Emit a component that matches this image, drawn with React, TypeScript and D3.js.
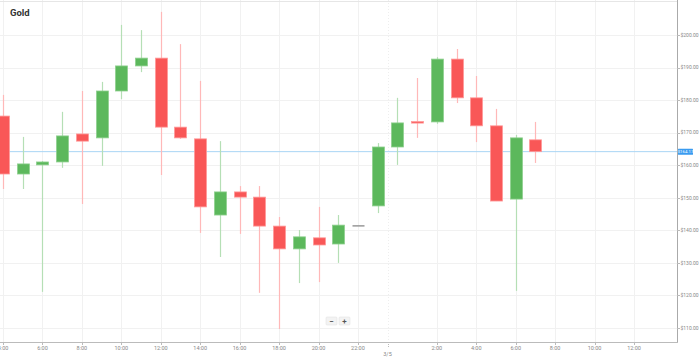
import React, { useEffect, useRef } from "react";
import * as d3 from "d3";

// hours counted from 3/4 00:00
const hours = [4, 5, 6, 7, 8, 9, 10, 11, 12, 13, 14, 15, 16, 17, 18, 19, 20, 21, 22, 23, 24, 25, 26, 27, 28, 29, 30, 31];
const opens = [175.1, 157.3, 160.1, 161.0, 169.6, 168.4, 182.8, 190.5, 192.9, 171.7, 168.1, 144.7, 151.8, 150.2, 141.3, 134.3, 137.7, 135.8, 141.6, 147.5, 165.6, 173.4, 173.3, 192.6, 180.7, 172.1, 149.6, 167.8];
const highs = [181.6, 168.7, 161.3, 176.4, 182.8, 185.6, 203.1, 201.5, 207.1, 197.2, 185.9, 167.4, 153.6, 153.6, 144.1, 140.1, 147.2, 144.7, 141.6, 166.8, 180.7, 186.8, 193.2, 195.7, 187.4, 177.3, 169.3, 173.3];
const lows = [152.7, 152.7, 121.1, 159.2, 148.1, 159.8, 180.3, 188.6, 157.0, 168.1, 139.2, 131.8, 138.9, 120.8, 109.7, 123.8, 124.1, 130.0, 141.6, 145.3, 160.1, 168.4, 172.7, 179.1, 167.1, 149.0, 121.4, 160.7];
const closes = [157.3, 160.4, 161.0, 169.0, 167.4, 182.8, 190.5, 192.9, 171.7, 168.4, 147.2, 151.8, 150.2, 141.3, 134.3, 138.0, 135.5, 141.6, 141.6, 165.6, 173.0, 173.1, 192.6, 180.7, 172.1, 149.0, 168.4, 164.17];

const priceTicks = [110, 120, 130, 140, 150, 160, 170, 180, 190, 200];
const timeTicks = [4, 6, 8, 10, 12, 14, 16, 18, 20, 22, 26, 28, 30, 32, 34, 36];
const timeLabels = ["4:00", "6:00", "8:00", "10:00", "12:00", "14:00", "16:00", "18:00", "20:00", "22:00", "2:00", "4:00", "6:00", "8:00", "10:00", "12:00"];
const dateTick = 23.5;
const dateLabel = "3/5";
const lastPrice = 164.17;

const W = 699;
const H = 359;

const App: React.FC = () => {
  const svgRef = useRef<SVGSVGElement | null>(null);

  useEffect(() => {
    if (!svgRef.current) return;
    const svg = d3.select(svgRef.current);
    svg.selectAll("*").remove();

    const plotRight = 677;
    const plotBottom = 342;

    const x = d3.scaleLinear().domain([4, 36]).range([3, 634]);
    const y = d3.scaleLinear().domain([110, 200]).range([328, 35]);

    svg.append("defs")
      .append("clipPath")
      .attr("id", "plot")
      .append("rect")
      .attr("x", 0)
      .attr("y", 0)
      .attr("width", plotRight)
      .attr("height", plotBottom);

    // grid
    const grid = svg.append("g");
    grid.selectAll("line.h")
      .data(priceTicks)
      .join("line")
      .attr("x1", 0)
      .attr("x2", plotRight)
      .attr("y1", (d) => Math.round(y(d)) + 0.5)
      .attr("y2", (d) => Math.round(y(d)) + 0.5)
      .attr("stroke", "#f1f1f1");
    grid.selectAll("line.v")
      .data(timeTicks)
      .join("line")
      .attr("x1", (d) => Math.round(x(d)) + 0.5)
      .attr("x2", (d) => Math.round(x(d)) + 0.5)
      .attr("y1", 0)
      .attr("y2", plotBottom)
      .attr("stroke", "#f1f1f1");
    grid.append("line")
      .attr("x1", Math.round(x(dateTick)) + 0.5)
      .attr("x2", Math.round(x(dateTick)) + 0.5)
      .attr("y1", 0)
      .attr("y2", plotBottom)
      .attr("stroke", "#eeeeee")
      .attr("stroke-dasharray", "1,2");
    grid.append("line")
      .attr("x1", 0)
      .attr("x2", plotRight)
      .attr("y1", 1.5)
      .attr("y2", 1.5)
      .attr("stroke", "#e6e6e6");

    // current price line
    svg.append("line")
      .attr("x1", 0)
      .attr("x2", plotRight)
      .attr("y1", y(lastPrice))
      .attr("y2", y(lastPrice))
      .attr("stroke", "#a9d5f5")
      .attr("stroke-width", 1);

    // candles
    const data = hours.map((h, i) => ({ h, o: opens[i], hi: highs[i], lo: lows[i], c: closes[i] }));
    const color = (d: { o: number; c: number }) =>
      d.c > d.o ? "#5cb85c" : d.c < d.o ? "#f95757" : "#999999";
    const wickColor = (d: { o: number; c: number }) =>
      d.c > d.o ? "#b5dfb5" : d.c < d.o ? "#ffb8b8" : "#999999";
    const bw = 12;

    const candles = svg.append("g").attr("clip-path", "url(#plot)");
    candles.selectAll("line.wick")
      .data(data)
      .join("line")
      .attr("x1", (d) => Math.round(x(d.h)) + 0.5)
      .attr("x2", (d) => Math.round(x(d.h)) + 0.5)
      .attr("y1", (d) => y(d.hi))
      .attr("y2", (d) => y(d.lo))
      .attr("stroke", wickColor)
      .attr("stroke-width", 1.2);
    candles.selectAll("rect.body")
      .data(data)
      .join("rect")
      .attr("x", (d) => Math.round(x(d.h)) + 0.5 - bw / 2)
      .attr("width", bw)
      .attr("y", (d) => y(Math.max(d.o, d.c)))
      .attr("height", (d) => Math.max(1.5, Math.abs(y(d.o) - y(d.c))))
      .attr("fill", color)
      .attr("stroke", (d) => (d.c === d.o ? "none" : d.c > d.o ? "#8fd08f" : "#ff9a9a"))
      .attr("stroke-width", 0.8);

    // axes lines
    svg.append("line")
      .attr("x1", plotRight + 0.5)
      .attr("x2", plotRight + 0.5)
      .attr("y1", 0)
      .attr("y2", plotBottom)
      .attr("stroke", "#aaaaaa");
    svg.append("line")
      .attr("x1", 0)
      .attr("x2", plotRight + 1)
      .attr("y1", plotBottom + 0.5)
      .attr("y2", plotBottom + 0.5)
      .attr("stroke", "#bbbbbb");

    const font = "Roboto, 'Open Sans', sans-serif";

    // y axis ticks + labels
    const yAxis = svg.append("g");
    yAxis.selectAll("line")
      .data(priceTicks)
      .join("line")
      .attr("x1", plotRight)
      .attr("x2", plotRight + 3)
      .attr("y1", (d) => Math.round(y(d)) + 0.5)
      .attr("y2", (d) => Math.round(y(d)) + 0.5)
      .attr("stroke", "#bbbbbb");
    yAxis.selectAll("text")
      .data(priceTicks)
      .join("text")
      .attr("x", plotRight + 3.5)
      .attr("y", (d) => y(d))
      .attr("dy", "0.35em")
      .attr("font-family", font)
      .attr("font-size", 5)
      .attr("fill", "#888888")
      .text((d) => `$${d3.format(".2f")(d)}`);

    // price label
    svg.append("rect")
      .attr("x", plotRight + 1)
      .attr("y", y(lastPrice) - 3)
      .attr("width", 15)
      .attr("height", 6)
      .attr("rx", 0.5)
      .attr("fill", "#3a9bf0");
    svg.append("text")
      .attr("x", plotRight + 8.5)
      .attr("y", y(lastPrice))
      .attr("dy", "0.35em")
      .attr("text-anchor", "middle")
      .attr("font-family", font)
      .attr("font-size", 4.3)
      .attr("fill", "#ffffff")
      .text(`$${d3.format(".2f")(lastPrice)}`);

    // x axis ticks + labels
    const xAxis = svg.append("g");
    xAxis.selectAll("line")
      .data(timeTicks)
      .join("line")
      .attr("x1", (d) => Math.round(x(d)) + 0.5)
      .attr("x2", (d) => Math.round(x(d)) + 0.5)
      .attr("y1", plotBottom)
      .attr("y2", plotBottom + 3)
      .attr("stroke", "#bbbbbb");
    xAxis.selectAll("text")
      .data(timeTicks)
      .join("text")
      .attr("x", (d) => x(d))
      .attr("y", 348)
      .attr("dy", "0.35em")
      .attr("text-anchor", "middle")
      .attr("font-family", font)
      .attr("font-size", 5.5)
      .attr("fill", "#888888")
      .text((_, i) => timeLabels[i]);
    xAxis.append("line")
      .attr("x1", Math.round(x(dateTick)) + 0.5)
      .attr("x2", Math.round(x(dateTick)) + 0.5)
      .attr("y1", plotBottom)
      .attr("y2", plotBottom + 6)
      .attr("stroke", "#bbbbbb")
      .attr("stroke-dasharray", "1,1");
    xAxis.append("text")
      .attr("x", x(dateTick))
      .attr("y", 354)
      .attr("dy", "0.35em")
      .attr("text-anchor", "middle")
      .attr("font-family", font)
      .attr("font-size", 5.5)
      .attr("fill", "#888888")
      .text(dateLabel);

    // title
    svg.append("text")
      .attr("x", 10)
      .attr("y", 15.5)
      .attr("font-family", font)
      .attr("font-weight", "bold")
      .attr("font-size", 9.5)
      .attr("fill", "#333333")
      .text("Gold");

    // zoom buttons
    const btns = svg.append("g");
    [["−", 326], ["+", 339]].forEach(([label, bx]) => {
      btns.append("rect")
        .attr("x", bx as number)
        .attr("y", 317)
        .attr("width", 11)
        .attr("height", 8)
        .attr("rx", 1)
        .attr("fill", "#f3f3f3")
        .attr("stroke", "#e4e4e4")
        .attr("stroke-width", 0.6);
      btns.append("text")
        .attr("x", (bx as number) + 5.5)
        .attr("y", 321)
        .attr("dy", "0.35em")
        .attr("text-anchor", "middle")
        .attr("font-family", font)
        .attr("font-weight", "bold")
        .attr("font-size", 8)
        .attr("fill", "#555555")
        .text(label as string);
    });
  }, []);

  return (
    <svg
      ref={svgRef}
      width={W}
      height={H}
      style={{ position: "absolute", left: 0, top: 0, background: "#ffffff" }}
    ></svg>
  );
};

export default App;
